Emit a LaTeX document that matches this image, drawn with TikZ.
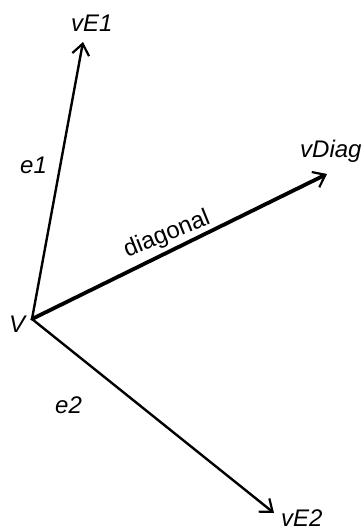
\documentclass[tikz,border=0pt]{standalone}
\usepackage{fontspec}
\setmainfont{Liberation Sans}
\usetikzlibrary{arrows.meta}
\tikzset{
  lbl/.style={font=\fontsize{24}{27}\selectfont\itshape, inner sep=0pt, anchor=base west},
  vec/.style={line width=2.4pt, line cap=round, -{Straight Barb[length=11pt,width=17pt,line width=2.2pt]}},
  diagvec/.style={vec, line width=3.8pt}
}
\begin{document}
\begin{tikzpicture}[x=1pt,y=1pt]
\useasboundingbox (0,0) rectangle (364,-531);
\coordinate (V) at (32,-319);
\coordinate (E1) at (83,-42);
\coordinate (D) at (327,-174);
\coordinate (E2) at (274,-513);
\draw[vec] (V) -- (E1);
\draw[diagvec] (V) -- (D);
\draw[vec] (V) -- (E2);
\node[lbl] (lV) at (9,-332) {V};
\node[lbl] (lE1) at (71,-31) {vE1};
\node[lbl] (lD) at (300,-157) {vDiag};
\node[lbl] (lE2) at (281,-526) {vE2};
\node[lbl] (le1) at (20,-173) {e1};
\node[lbl] (le2) at (55,-413) {e2};
\node[font=\fontsize{24}{27}\selectfont, inner sep=0pt, rotate=22] (ldiag) at (167,-235) {diagonal};
\end{tikzpicture}
\end{document}
